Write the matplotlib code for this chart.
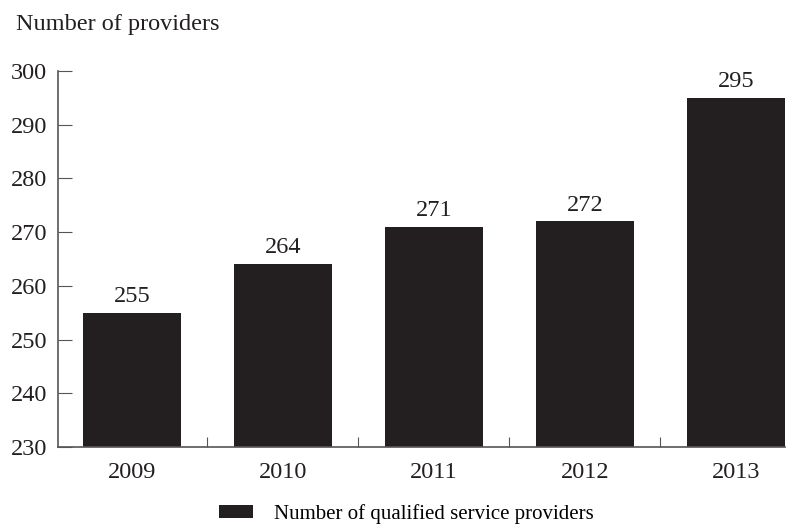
import matplotlib
matplotlib.use('Agg')
import matplotlib.pyplot as plt
import numpy as np

years = ['2009', '2010', '2011', '2012', '2013']
providers = [255, 264, 271, 272, 295]
yticks = [230, 240, 250, 260, 270, 280, 290, 300]

plt.rcParams['font.family'] = ['Liberation Serif', 'DejaVu Serif']
plt.rcParams['font.size'] = 17.5

fig = plt.figure(figsize=(8, 5.28), dpi=100)
ax = fig.add_axes([0.0725, 0.1534, 0.9085, 0.7121])

x = np.arange(len(years))
bars = ax.bar(x, providers, width=0.65, color='#231f20',
              label='Number of qualified service providers')
for b, v in zip(bars, providers):
    ax.text(b.get_x() + b.get_width() / 2, v + 1.1, str(v),
            ha='center', va='bottom', color='#231f20')

ax.set_yticks(yticks)
ax.set_xticks(x[:-1] + 0.5)
ax.set_xticklabels([])
ax.set_xticks(x, minor=True)
ax.set_xticklabels(years, minor=True)
ax.set_ylim(230, 300)
ax.set_xlim(-0.49, 4.325)
ax.tick_params(axis='x', which='major', direction='in', length=7, color='#555555')
ax.tick_params(axis='x', which='minor', length=0, pad=11, labelcolor='#231f20')
ax.tick_params(axis='y', direction='in', length=10, color='#555555', pad=8,
               labelcolor='#231f20')

for s in ['top', 'right']:
    ax.spines[s].set_visible(False)
for s in ['left', 'bottom']:
    ax.spines[s].set_color('#555555')
    ax.spines[s].set_linewidth(1.2)

fig.text(0.02, 0.954, 'Number of providers', ha='left', va='center',
         color='#231f20')

fig.legend(loc='center', bbox_to_anchor=(0.508, 0.027), frameon=False,
           fontsize=15, handlelength=1.63, handleheight=0.58, handletextpad=1.0)

fig.savefig('out.png', dpi=100)
